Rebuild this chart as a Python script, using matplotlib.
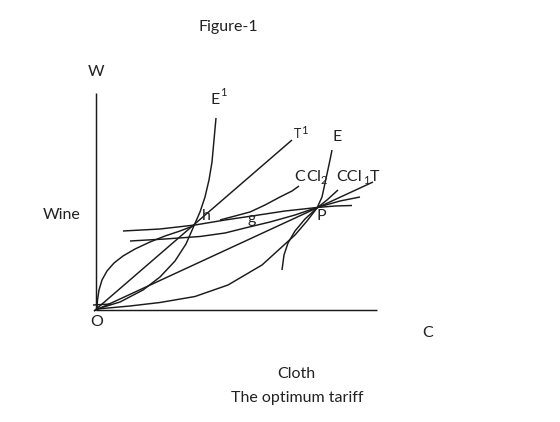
import matplotlib
matplotlib.use("Agg")
import matplotlib.pyplot as plt

plt.rcParams['font.family'] = ['Lato', 'DejaVu Sans']

# curve points (pixel space: x right, y down)
y_axis = [(96, 93), (96, 310)]
x_axis = [(96, 310), (377, 310)]
t1_line = [(94, 311), (292, 140)]
t_line = [(94, 311), (373, 182)]
origin_stroke = [(93, 305), (111, 304)]
e1_curve = [(97, 309), (120, 302), (143, 290), (160, 277), (175, 261), (186, 244),
            (193, 228), (200, 212), (205, 197), (209, 180), (212, 162), (214, 140), (216, 118)]
concave_oh = [(97, 309), (97.5, 300), (99, 290), (102, 280), (107, 271), (114, 263),
              (123, 256), (135, 249), (150, 242), (165, 236), (180, 231), (193, 226)]
upper_ic = [(123, 231), (160, 229), (195, 225), (225, 220), (252, 216), (285, 211),
            (317, 207.5), (335, 206), (352, 205.5)]
lower_ic = [(130, 241), (165, 239), (200, 236.5), (225, 233), (245, 228), (270, 222),
            (295, 215), (317, 207.5), (340, 201), (360, 197)]
cci2_curve = [(220, 220), (235, 216), (250, 212), (265, 205), (280, 197), (292, 191), (299, 186)]
cci1_curve = [(317, 208), (327, 200), (338, 190)]
op_convex = [(97, 309), (130, 306), (160, 302.5), (195, 296.5), (228, 285), (262, 265),
             (295, 235), (307, 221), (317, 208)]
e_curve = [(282, 270), (284, 255), (288, 243), (295, 231), (305, 219), (317, 208),
           (322, 197), (327, 174), (330, 160), (332, 150)]

curves = [y_axis, x_axis, t1_line, t_line, origin_stroke, e1_curve, concave_oh,
          upper_ic, lower_ic, cci2_curve, cci1_curve, op_convex, e_curve]

fig = plt.figure(figsize=(5.6, 4.22), dpi=100)
ax = fig.add_axes([0, 0, 1, 1])
ax.set_xlim(0, 560)
ax.set_ylim(422, 0)
ax.axis('off')

for c in curves:
    xs = [p[0] for p in c]
    ys = [p[1] for p in c]
    ax.plot(xs, ys, color='#1a1a1a', lw=1.05, solid_capstyle='butt')

fs = 11.5
ink = '#222222'
txt = dict(ha='center', va='center', color=ink, fontsize=fs)
sup = dict(ha='center', va='center', color=ink, fontsize=8)
ax.text(228, 27, 'Figure-1', **txt)
ax.text(96, 72, 'W', **txt)
ax.text(62, 215, 'Wine', **txt)
ax.text(97, 322, 'O', **txt)
ax.text(428, 333, 'C', **txt)
ax.text(296, 374, 'Cloth', **txt)
ax.text(297, 398, 'The optimum tariff', **txt)

# curve labels
ax.text(215, 100, 'E', **txt)
ax.text(223, 93, '1', **sup)
ax.text(297, 134, 'T', ha='center', va='center', color=ink, fontsize=9)
ax.text(304, 130, '1', **sup)
ax.text(337, 137, 'E', **txt)
ax.text(300, 177, 'C', **txt)
ax.text(314, 177, 'CI', **txt)
ax.text(324, 181, '2', **sup)
ax.text(349, 177, 'CCI', **txt)
ax.text(366, 181, '1', **sup)
ax.text(374, 177, 'T', **txt)
ax.text(206, 216, 'h', **txt)
ax.text(252, 219, 'g', **txt)
ax.text(321, 216, 'P', **txt)

fig.savefig('out.png', dpi=100)
